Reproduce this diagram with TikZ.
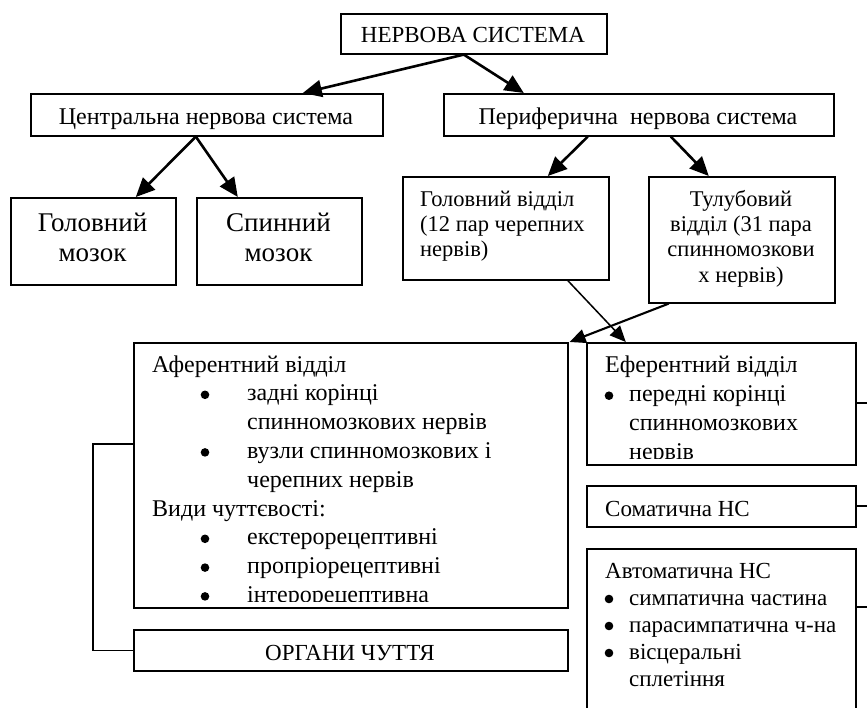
\documentclass[tikz,border=0pt]{standalone}
\usepackage{fontspec}
\setmainfont{Liberation Serif}
\usetikzlibrary{arrows.meta,calc}
\begin{document}
\begin{tikzpicture}[x=1pt,y=-1pt,
  box/.style={draw,line width=1.6pt,inner sep=0pt,anchor=north west},
  fn/.style={font=\fontsize{24}{28.8}\selectfont},
  fm/.style={font=\fontsize{23}{27}\selectfont},
  fs/.style={font=\fontsize{22.5}{25}\selectfont},
  fb/.style={font=\fontsize{27}{30}\selectfont},
  ltxt/.style={anchor=base west,inner sep=0pt},
  ctxt/.style={anchor=base,inner sep=0pt},
  arrthick/.style={line width=2.6pt,-{Triangle[length=19pt,width=17pt]}},
  arrthin/.style={line width=1.5pt,-{Triangle[length=16pt,width=14pt]}},
  arrmid/.style={line width=2.1pt,-{Triangle[length=16pt,width=14pt]}},
  link/.style={line width=1.6pt}]
\useasboundingbox (0,0) rectangle (867,708);
\clip (0,0) rectangle (867,708);
% boxes
\node[box,minimum width=266pt,minimum height=40pt] (top) at (340,13) {};
\node[box,minimum width=352pt,minimum height=42pt] (cns) at (30,93) {};
\node[box,minimum width=390pt,minimum height=42pt] (pns) at (443,93) {};
\node[box,minimum width=165pt,minimum height=87pt] (brain) at (10,197) {};
\node[box,minimum width=165pt,minimum height=87pt] (spine) at (196,197) {};
\node[box,minimum width=206pt,minimum height=103pt] (head) at (402,176) {};
\node[box,minimum width=186pt,minimum height=126pt] (trunk) at (648,176) {};
\node[box,minimum width=434pt,minimum height=265pt] (aff) at (133,342) {};
\node[box,minimum width=269pt,minimum height=122pt] (eff) at (586,342) {};
\node[box,minimum width=269pt,minimum height=41pt] (som) at (586,485) {};
\node[box,minimum width=269pt,minimum height=175pt] (auto) at (586,548) {};
\node[box,minimum width=434pt,minimum height=41pt] (org) at (133,629) {};
% simple texts
\node[ctxt,fm] (ttop) at (473,43) {НЕРВОВА СИСТЕМА};
\node[ctxt,fn] (tcns) at (206,125) {Центральна нервова система};
\node[ctxt,fn] (tpns) at (638,125) {Периферична\ \ нервова система};
\node[ctxt,fb] (tbrain1) at (92.5,232) {Головний};
\node[ctxt,fb] (tbrain2) at (92.5,262) {мозок};
\node[ctxt,fb] (tspine1) at (278.5,232) {Спинний};
\node[ctxt,fb] (tspine2) at (278.5,262) {мозок};
\node[ltxt,fs] (thead1) at (420,207) {Головний відділ};
\node[ltxt,fs] (thead2) at (420,232) {(12 пар черепних};
\node[ltxt,fs] (thead3) at (420,257) {нервів)};
\node[ctxt,fs] (ttrunk1) at (741,207) {Тулубовий};
\node[ctxt,fs] (ttrunk2) at (741,232) {відділ (31 пара};
\node[ctxt,fs] (ttrunk3) at (741,257) {спинномозкови};
\node[ctxt,fs] (ttrunk4) at (741,283) {х нервів)};
\node[ltxt,fm] (tsom) at (605,516) {Соматична НС};
\node[ctxt,fm] (torg) at (350,660) {ОРГАНИ ЧУТТЯ};
% afferent text (clipped)
\begin{scope}
  \clip (aff.north west) rectangle ([yshift=7pt]aff.south east);
  \foreach \xx/\tt/\bb [count=\i] in {
      152/Аферентний відділ/0,
      247/задні корінці/1,
      247/спинномозкових нервів/0,
      247/вузли спинномозкових і/1,
      247/черепних нервів/0,
      152/Види чуттєвості:/0,
      247/екстерорецептивні/1,
      247/пропріорецептивні/1,
      247/інтерорецептивна/1}
  {
    \node[ltxt,fn] (taff\i) at (\xx,{372+28.8*(\i-1)}) {\tt};
    \ifnum\bb=1 \fill (205,{372+28.8*(\i-1)-6}) circle (4.3pt); \fi
  }
\end{scope}
% efferent text (clipped)
\begin{scope}
  \clip (eff.north west) rectangle ([yshift=7pt]eff.south east);
  \foreach \xx/\tt/\bb [count=\i] in {
      605/Еферентний відділ/0,
      629/передні корінці/1,
      629/спинномозкових/0,
      629/нервів/0}
  {
    \node[ltxt,fn] (teff\i) at (\xx,{373+28.7*(\i-1)}) {\tt};
    \ifnum\bb=1 \fill (609,{373+28.7*(\i-1)-6}) circle (4.3pt); \fi
  }
\end{scope}
% autonomic text
\foreach \xx/\tt/\bb [count=\i] in {
    605/Автоматична НС/0,
    629/симпатична частина/1,
    629/парасимпатична ч-на/1,
    629/вісцеральні/1,
    629/сплетіння/0}
{
  \node[ltxt,fm] (tauto\i) at (\xx,{578+27*(\i-1)}) {\tt};
  \ifnum\bb=1 \fill (609,{578+27*(\i-1)-6}) circle (4.3pt); \fi
}
% arrows
\draw[arrthick] ([xshift=-10pt]top.south) -- ([xshift=96pt]cns.north);
\draw[arrthick] ([xshift=-10pt]top.south) -- ([xshift=-115pt]pns.north);
\draw[arrthick] ([xshift=-11pt]cns.south) -- ([xshift=42.5pt]brain.north);
\draw[arrthick] ([xshift=-11pt]cns.south) -- ([xshift=-41.5pt]spine.north);
\draw[arrthick] ([xshift=-51pt]pns.south) -- ([xshift=42pt]head.north);
\draw[arrthick] ([xshift=32pt]pns.south) -- ([xshift=-33pt]trunk.north);
\draw[arrthin] ([xshift=62pt]head.south) -- ([xshift=-95.5pt]eff.north);
\draw[arrmid] ([xshift=-73pt]trunk.south) -- ([xshift=1pt]aff.north east);
% connectors
\coordinate (brk) at (93,444);
\draw[link] (aff.west |- brk) -- (brk) -- (brk |- org.west) -- (org.west);
\coordinate (effR) at (867,403);
\coordinate (somR) at (867,506);
\coordinate (autoR) at (867,607);
\draw[link] (effR -| eff.east) -- (effR);
\draw[link] (somR -| som.east) -- (somR);
\draw[link] (autoR -| auto.east) -- (autoR);
\end{tikzpicture}
\end{document}
